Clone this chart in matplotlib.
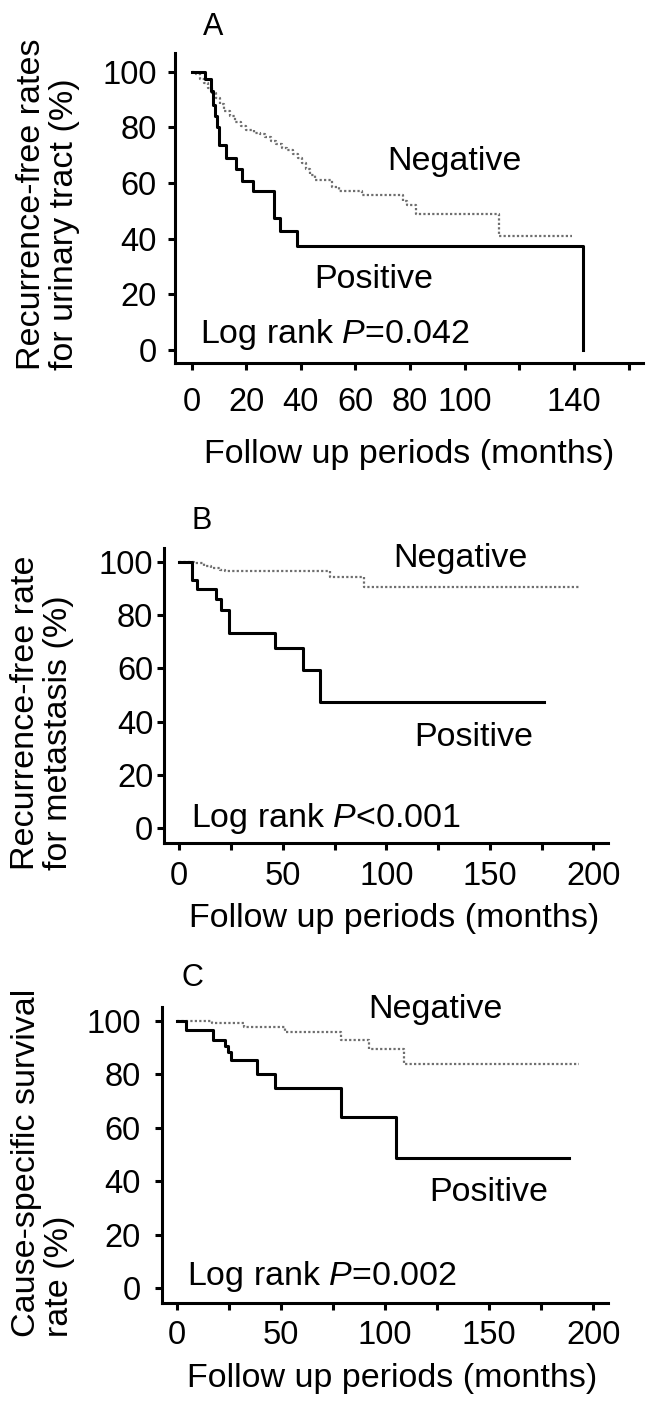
import matplotlib
matplotlib.use("Agg")
import matplotlib.pyplot as plt

plt.rcParams['font.family'] = ['Liberation Sans', 'DejaVu Sans']
plt.rcParams['mathtext.fontset'] = 'custom'
plt.rcParams['mathtext.rm'] = 'Liberation Sans'
plt.rcParams['mathtext.it'] = 'Liberation Sans:italic'

# ---------------- data (months, %) ----------------
# Panel A: recurrence-free rates for urinary tract
a_pos_t = [0, 4.8, 7.0, 7.8, 8.5, 9.4, 10.1, 12.4, 16.3, 18.6, 22.4, 30.0, 32.3, 38.5, 143.2]
a_pos_v = [100, 97.5, 93, 88, 84, 80, 73.8, 69, 65, 60.7, 57, 47.5, 42.8, 37.5, 0]
a_neg_t = [0, 1.5, 3, 4.5, 6, 7.5, 9, 10.5, 12, 14, 16, 18, 20, 23, 25, 27, 29, 31, 33, 35,
           37, 39, 40.5, 42, 43.5, 45, 51.5, 54, 62.5, 77.5, 79, 82, 112.7, 139.2]
a_neg_v = [100, 99, 97.5, 96, 94, 92.5, 90.5, 88.5, 86, 84, 82, 80.5, 79, 78, 77.5, 76.5, 75, 74, 72.5, 72,
           70.5, 69, 67, 65, 63, 61, 58.5, 57, 55.5, 53.5, 52, 49, 41, 41]

# Panel B: recurrence-free rate for metastasis
b_pos_t = [0, 6, 8.5, 17.5, 20.2, 24, 46.2, 59.8, 68, 176]
b_pos_v = [100, 93.2, 89.8, 86, 81.7, 73.2, 67.6, 59.4, 47.3, 47.3]
b_neg_t = [0, 7, 12, 15.5, 19.5, 22, 73, 89, 193]
b_neg_v = [100, 99.4, 98.5, 97.5, 96.8, 96.4, 94.2, 90.6, 90.6]

# Panel C: cause-specific survival rate
c_pos_t = [0, 4.5, 17.2, 23.2, 24.6, 26, 38.4, 47.2, 78.8, 105.5, 188.3]
c_pos_v = [100, 96.6, 93, 90.5, 88.5, 85.2, 80.3, 74.8, 64.2, 48.6, 48.6]
c_neg_t = [0, 17, 32.5, 52, 79, 92.5, 109.3, 193.3]
c_neg_v = [100, 99.3, 97.8, 95.7, 92.7, 89.4, 83.9, 83.9]

a_xticks = [0, 20, 40, 60, 80, 100, 120, 140, 160]
a_xticklabels = ['0', '20', '40', '60', '80', '100', '', '140', '']
bc_xticks = [0, 25, 50, 75, 100, 125, 150, 175, 200]
bc_xticklabels = ['0', '', '50', '', '100', '', '150', '', '200']
yticks = [0, 20, 40, 60, 80, 100]

panel_letters = ['A', 'B', 'C']
ylabels = ['Recurrence-free rates\nfor urinary tract (%)',
           'Recurrence-free rate\nfor metastasis (%)',
           'Cause-specific survival\nrate (%)']
xlabel = 'Follow up periods (months)'
pvals = [r'Log rank $\mathit{P}$=0.042', r'Log rank $\mathit{P}$<0.001', r'Log rank $\mathit{P}$=0.002']

# ---------------- layout ----------------
W, H = 652, 1403
fig = plt.figure(figsize=(W / 100, H / 100), dpi=100)


def rect(l, r, t, b):
    return [l / W, 1 - b / H, (r - l) / W, (b - t) / H]


FS = 24.5
TFS = 23.5

specs = [
    dict(rect=rect(175, 643.3, 53.3, 363.3), xlim=(-6.1, 165.4), ylim=(-4.8, 106.6),
         pos=(a_pos_t, a_pos_v), neg=(a_neg_t, a_neg_v),
         xt=a_xticks, xtl=a_xticklabels, xpad=12, ypad=8,
         neg_txt=(71.8, 64.7), pos_txt=(45.0, 22.2), p_txt=(3.0, 2.4),
         letter=(202.7, 35), ylab=(48, 204), xlab=(409, 454)),
    dict(rect=rect(164.3, 608.3, 548.3, 843.3), xlim=(-7.25, 207.2), ylim=(-5.6, 105),
         pos=(b_pos_t, b_pos_v), neg=(b_neg_t, b_neg_v),
         xt=bc_xticks, xtl=bc_xticklabels, xpad=7.5, ypad=3,
         neg_txt=(103.2, 97.9), pos_txt=(113.7, 30.9), p_txt=(5.8, 0.6),
         letter=(191.7, 529.3), ylab=(42, 713), xlab=(394, 919)),
    dict(rect=rect(161.7, 608.3, 1006.7, 1302.7), xlim=(-7.2, 207.2), ylim=(-5.4, 105.3),
         pos=(c_pos_t, c_pos_v), neg=(c_neg_t, c_neg_v),
         xt=bc_xticks, xtl=bc_xticklabels, xpad=7.5, ypad=10,
         neg_txt=(92.1, 101), pos_txt=(121.4, 32.8), p_txt=(4.9, 1.2),
         letter=(181.7, 986), ylab=(43, 1163), xlab=(392.5, 1379)),
]

for i, s in enumerate(specs):
    ax = fig.add_axes(s['rect'])
    ax.set_xlim(*s['xlim'])
    ax.set_ylim(*s['ylim'])
    for sp in ['top', 'right']:
        ax.spines[sp].set_visible(False)
    for sp in ['left', 'bottom']:
        ax.spines[sp].set_linewidth(2.2)
    ax.step(s['neg'][0], s['neg'][1], where='post', color='#6e6e6e',
            lw=1.6, linestyle=(0, (1, 1)))
    ax.step(s['pos'][0], s['pos'][1], where='post', color='black', lw=2.2)
    ax.set_xticks(s['xt'])
    ax.set_xticklabels(s['xtl'])
    ax.set_yticks(yticks)
    ax.tick_params(axis='x', direction='out', length=5, width=2.2, pad=s['xpad'], labelsize=TFS)
    ax.tick_params(axis='y', direction='out', length=5, width=2.2, pad=s['ypad'], labelsize=TFS)
    ax.text(*s['neg_txt'], 'Negative', fontsize=FS, ha='left', va='baseline')
    ax.text(*s['pos_txt'], 'Positive', fontsize=FS, ha='left', va='baseline')
    ax.text(*s['p_txt'], pvals[i], fontsize=FS, ha='left', va='baseline')

    lx, ly = s['letter']
    fig.text(lx / W, 1 - ly / H, panel_letters[i], fontsize=22, ha='left', va='baseline')
    yx, yy = s['ylab']
    fig.text(yx / W, 1 - yy / H, ylabels[i], fontsize=FS, rotation=90, ha='center',
             va='center', multialignment='left', linespacing=1.1)
    xx, xy = s['xlab']
    fig.text(xx / W, 1 - xy / H, xlabel, fontsize=FS, ha='center', va='center')

fig.savefig('out.png', dpi=100)
